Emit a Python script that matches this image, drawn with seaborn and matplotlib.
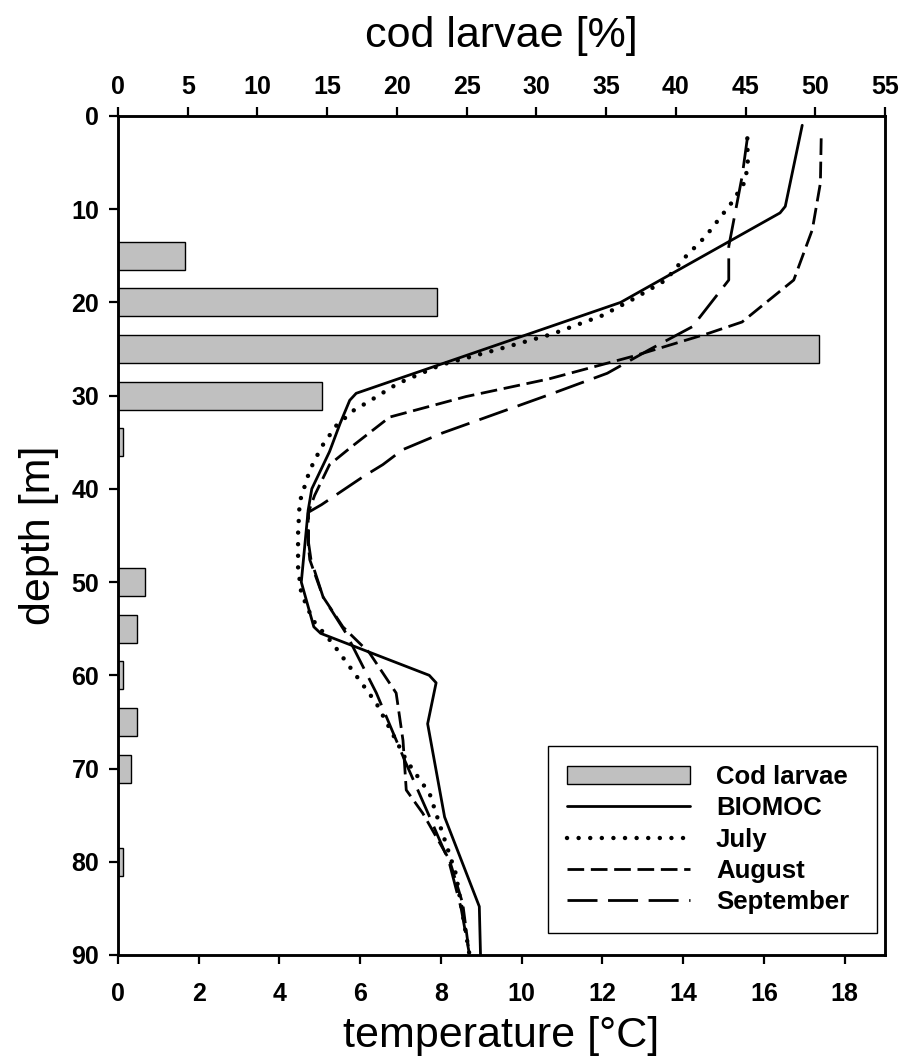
import matplotlib
matplotlib.use("Agg")
import matplotlib.pyplot as plt
import seaborn as sns
import numpy as np
import pandas as pd

# ---------------- data ----------------
cod_depth = [15, 20, 25, 30, 35, 50, 55, 60, 65, 70, 80]
cod_pct = [4.8, 22.9, 50.25, 14.6, 0.38, 1.9, 1.39, 0.38, 1.39, 0.91, 0.38]

biomoc_depth = [1, 9.7, 10.4, 20.0, 29.75, 30.5, 33.0, 36.0, 40.0, 42.3, 50.0, 54.8, 55.5, 60.0, 60.8, 65.2, 75.2, 84.8, 90.0]
biomoc_temp = [16.95, 16.53, 16.4, 12.45, 5.9, 5.74, 5.5, 5.24, 4.8, 4.71, 4.54, 4.85, 5.02, 7.71, 7.88, 7.67, 8.09, 8.95, 8.98]

july_depth = [2.4, 5.0, 7.0, 9.5, 10.6, 12.9, 15.1, 17.6, 19.6, 21.4, 23.4, 25.1, 26.7, 28.7, 30.8, 31.5, 33.2, 35.5, 38.0, 41.4, 44.8, 48.4, 51.2, 54.1, 56.6, 59.8, 63.0, 67.0, 69.1, 72.7, 75.9, 81.3, 89.8]
july_temp = [15.59, 15.6, 15.54, 15.17, 14.97, 14.56, 14.06, 13.57, 12.78, 12.0, 10.75, 9.36, 8.0, 6.93, 6.15, 5.86, 5.41, 5.04, 4.75, 4.5, 4.46, 4.46, 4.54, 4.83, 5.32, 5.86, 6.4, 6.89, 7.14, 7.72, 7.96, 8.37, 8.7]

aug_depth = [2.4, 7.2, 12.2, 17.6, 22.1, 23.3, 25.8, 28.2, 30.1, 32.3, 35.5, 37.4, 40.7, 42.6, 45.8, 47.6, 51.6, 54.8, 57.6, 61.9, 67.0, 72.3, 74.8, 79.8, 84.5, 89.8]
aug_temp = [17.42, 17.4, 17.2, 16.74, 15.46, 14.64, 12.74, 10.68, 8.62, 6.73, 5.78, 5.24, 4.87, 4.71, 4.71, 4.75, 5.08, 5.57, 6.23, 6.89, 7.06, 7.14, 7.55, 8.21, 8.54, 8.7]

sep_depth = [2.4, 6.5, 14.0, 17.6, 22.6, 25.1, 27.6, 29.9, 30.8, 34.0, 35.8, 37.4, 38.7, 41.7, 42.5, 45.8, 47.6, 51.6, 55.5, 61.9, 69.1, 75.0, 80.0, 85.0, 89.8]
sep_temp = [15.59, 15.46, 15.13, 15.13, 14.23, 13.15, 12.12, 10.68, 10.1, 8.04, 7.05, 6.56, 6.07, 5.04, 4.72, 4.72, 4.78, 5.08, 5.65, 6.4, 7.1, 7.7, 8.2, 8.5, 8.7]

temp_ticks = list(range(0, 19, 2))
pct_ticks = list(range(0, 56, 5))
depth_ticks = list(range(0, 91, 10))

# ---------------- style ----------------
sns.set_style("ticks")
plt.rcParams["font.family"] = ["Liberation Sans", "DejaVu Sans"]
plt.rcParams["text.color"] = "black"
plt.rcParams["axes.labelcolor"] = "black"
plt.rcParams["xtick.color"] = "black"
plt.rcParams["ytick.color"] = "black"
plt.rcParams["axes.edgecolor"] = "black"

fig = plt.figure(figsize=(8.99, 10.57), dpi=100)
ax = fig.add_axes([0.1313, 0.0965, 0.8531, 0.7938])
ax2 = ax.twiny()

# bars (top axis, percent)
sns.barplot(x=cod_pct, y=cod_depth, orient="h", native_scale=True, width=0.6,
            color="#c0c0c0", saturation=1, edgecolor="black", linewidth=1.0,
            ax=ax2, label="Cod larvae")

# temperature profiles (bottom axis)
lw = 2.0
sns.lineplot(x=biomoc_temp, y=biomoc_depth, orient="y", estimator=None, errorbar=None,
             ax=ax, color="black", linewidth=lw, linestyle="-", label="BIOMOC")
sns.lineplot(x=july_temp, y=july_depth, orient="y", estimator=None, errorbar=None,
             ax=ax, color="black", linewidth=3.2, linestyle=(0, (0.01, 2.6)),
             dash_capstyle="round", label="July")
sns.lineplot(x=aug_temp, y=aug_depth, orient="y", estimator=None, errorbar=None,
             ax=ax, color="black", linewidth=lw, linestyle=(0, (6.0, 2.4)), label="August")
sns.lineplot(x=sep_temp, y=sep_depth, orient="y", estimator=None, errorbar=None,
             ax=ax, color="black", linewidth=lw, linestyle=(0, (10.8, 3.8)), label="September")

ax.set_zorder(ax2.get_zorder() + 1)
ax.patch.set_visible(False)

ax.set_xlim(0, 19)
ax2.set_xlim(0, 55)
ax.set_ylim(90, 0)

ax.set_xticks(temp_ticks)
ax2.set_xticks(pct_ticks)
ax.set_yticks(depth_ticks)

tick_fs = 18
for a in (ax, ax2):
    for s in a.spines.values():
        s.set_visible(True)
        s.set_linewidth(1.8)
        s.set_color("black")
ax.tick_params(axis="x", which="major", direction="out", length=6.5, width=1.6,
               labelsize=tick_fs, pad=13, bottom=True, top=False)
ax.tick_params(axis="y", which="major", direction="out", length=6.5, width=1.6,
               labelsize=tick_fs, pad=7, left=True, right=False)
ax2.tick_params(axis="x", which="major", direction="out", length=6.5, width=1.6,
                labelsize=tick_fs, pad=6, top=True, bottom=False)
for lab in ax.get_xticklabels() + ax.get_yticklabels() + ax2.get_xticklabels():
    lab.set_fontweight("bold")

ax.set_xlabel("temperature [°C]", fontsize=31, labelpad=7)
ax.set_ylabel("depth [m]", fontsize=31, labelpad=9)
ax2.set_xlabel("cod larvae [%]", fontsize=31, labelpad=20)
ax2.set_ylabel("")

# legend
h2, l2 = ax2.get_legend_handles_labels()
h1, l1 = ax.get_legend_handles_labels()
if ax2.get_legend() is not None:
    ax2.get_legend().remove()
leg = ax.legend(h2 + h1, l2 + l1, loc="lower left",
                bbox_to_anchor=(0.5606, 0.0262, 0.429, 0.1), mode="expand",
                borderaxespad=0,
                frameon=True, fancybox=False, framealpha=1, edgecolor="black",
                prop={"weight": "bold", "size": 18.5, "family": "Liberation Sans"},
                handlelength=4.8, handletextpad=1.0, labelspacing=0.28,
                borderpad=0.74)
leg.get_frame().set_linewidth(1.0)

fig.savefig("out.png", dpi=100)
